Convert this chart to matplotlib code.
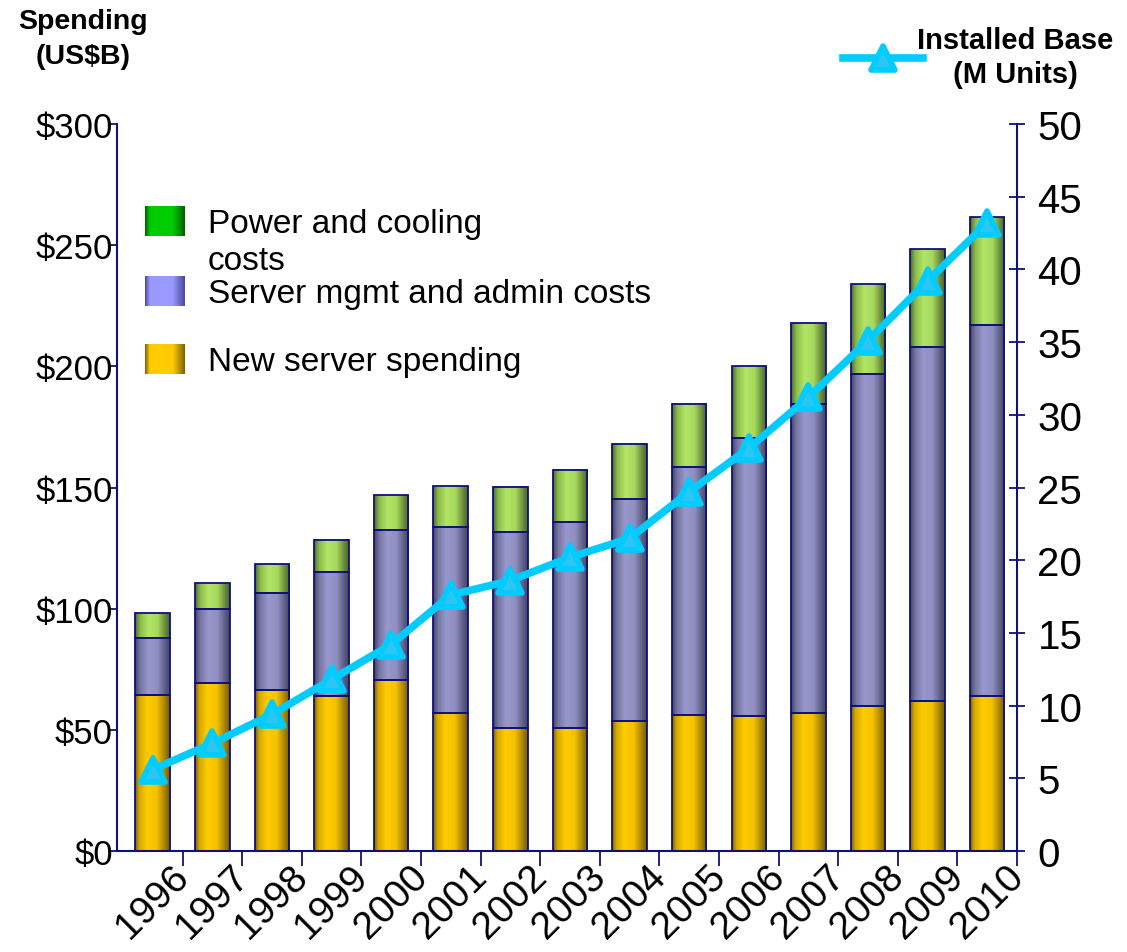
import matplotlib

matplotlib.use("Agg")
import matplotlib.pyplot as plt
import numpy as np
from matplotlib.colors import LinearSegmentedColormap
from matplotlib.markers import MarkerStyle

plt.rcParams["font.family"] = ["Liberation Sans", "DejaVu Sans"]

# data (US$B per year, stacked) and installed base (M units)
years = ["1996", "1997", "1998", "1999", "2000", "2001", "2002", "2003",
         "2004", "2005", "2006", "2007", "2008", "2009", "2010"]
new_server = [64.5, 69.3, 66.4, 63.8, 70.7, 57.0, 50.6, 50.9,
              53.8, 56.1, 55.8, 56.8, 60.0, 62.0, 63.8]
mgmt_admin = [23.6, 30.6, 40.2, 51.2, 61.9, 76.8, 80.9, 85.0,
              91.3, 102.2, 114.8, 127.7, 136.9, 146.1, 153.4]
power_cooling = [10.1, 10.7, 11.8, 13.3, 14.4, 16.7, 18.7, 21.5,
                 22.9, 26.2, 29.7, 33.4, 37.0, 40.3, 44.4]
installed_base = [5.6, 7.4, 9.4, 11.8, 14.2, 17.6, 18.6, 20.2,
                  21.5, 24.7, 27.7, 31.2, 35.1, 39.2, 43.2]

spend_ticks = [0, 50, 100, 150, 200, 250, 300]
spend_labels = [r"\$0", r"\$50", r"\$100", r"\$150", r"\$200", r"\$250", r"\$300"]
base_ticks = [0, 5, 10, 15, 20, 25, 30, 35, 40, 45, 50]

NAVY = "#10107a"


def shade(name, dark, light, dark2=None):
    dark2 = dark2 or dark
    return LinearSegmentedColormap.from_list(
        name, [(0, dark), (0.12, light), (0.38, light), (0.7, light), (1, dark2)]
    )


gold_cm = LinearSegmentedColormap.from_list(
    "gold", [(0, "#7a6000"), (0.12, "#d4a800"), (0.35, "#ffcc00"),
             (0.62, "#f4c300"), (0.85, "#aa8500"), (1, "#735a00")])
purple_cm = LinearSegmentedColormap.from_list(
    "purple", [(0, "#454566"), (0.15, "#7676a4"), (0.38, "#9898cc"),
               (0.65, "#8e8ec0"), (0.88, "#5a5a80"), (1, "#444464")])
green_cm = LinearSegmentedColormap.from_list(
    "green", [(0, "#4f6a2a"), (0.15, "#8cbc4a"), (0.38, "#b2e466"),
              (0.65, "#a6d85c"), (0.88, "#66863a"), (1, "#4a6428")])

leg_green = shade("lg", "#006000", "#00cc00")
leg_purple = shade("lp", "#4a4a9a", "#9999ff")
leg_gold = shade("ly", "#806000", "#ffcc00")

fig = plt.figure(figsize=(11.27, 9.53), dpi=100)
ax = fig.add_axes([0.1038, 0.1060, 0.7986, 0.7628])
ax2 = ax.twinx()

x = np.arange(len(years))
width = 0.58
grad = np.linspace(0, 1, 128).reshape(1, -1)

bottom = np.zeros(len(years))
for vals, cmap in [(new_server, gold_cm), (mgmt_admin, purple_cm),
                   (power_cooling, green_cm)]:
    vals = np.asarray(vals)
    for xi, b, h in zip(x, bottom, vals):
        ax.imshow(grad, cmap=cmap, aspect="auto", interpolation="bilinear",
                  extent=(xi - width / 2, xi + width / 2, b, b + h), zorder=2)
    ax.bar(x, vals, width, bottom=bottom, fill=False, edgecolor=NAVY,
           linewidth=1.3, zorder=3)
    bottom = bottom + vals

ax.set_xlim(-0.6, 14.5)
ax.set_ylim(0, 300)
ax.set_aspect("auto")

tri = MarkerStyle("^", joinstyle="round")
line, = ax2.plot(x, installed_base, color="#00ccff", linewidth=5.5,
                 marker=tri, markersize=17.5, markerfacecolor="#2cc6f4",
                 markeredgecolor="#00ccff", markeredgewidth=4, zorder=5,
                 solid_joinstyle="round")
ax2.set_ylim(0, 50)

# axes styling
ax.set_yticks(spend_ticks, spend_labels)
ax.tick_params(axis="y", direction="out", length=6, width=1.3, color=NAVY,
               pad=-3, labelsize=25)
ax.set_xticks(x, years, rotation=45, fontsize=28)
ax.tick_params(axis="x", which="major", length=0, pad=5)
ax.set_xticks(x + 0.5, minor=True)
ax.tick_params(axis="x", which="minor", direction="out", length=10.5,
               width=1.3, color=NAVY)

ax2.set_yticks(base_ticks)
ax2.tick_params(axis="y", direction="inout", length=11.5, width=1.3,
                color=NAVY, pad=9, labelsize=29)

for a in (ax, ax2):
    a.spines["top"].set_visible(False)
    for s in a.spines.values():
        s.set_color(NAVY)
        s.set_linewidth(1.5)
ax.spines["right"].set_visible(False)
ax2.spines["left"].set_visible(False)
ax2.spines["bottom"].set_visible(False)

# axis titles
fig.text(83 / 1127, 1 - 9 / 953, "Spending\n(US\\$B)", ha="center", va="top",
         fontsize=20.5, fontweight="bold", multialignment="center",
         linespacing=1.45)

leg = ax2.legend([line], ["Installed Base\n(M Units)"], loc="center left",
                 bbox_to_anchor=(843 / 1127, 1 - 58 / 953),
                 bbox_transform=fig.transFigure, frameon=False,
                 handlelength=2.75, handletextpad=-0.2, borderpad=0,
                 borderaxespad=0, prop={"weight": "bold", "size": 21})
for t in leg.get_texts():
    t.set_multialignment("center")
    t.set_linespacing(1.3)

# bar legend (swatch aligned with the first line of each label)
legend_rows = [
    (leg_green, 207, "Power and cooling\ncosts"),
    (leg_purple, 277, "Server mgmt and admin costs"),
    (leg_gold, 345, "New server spending"),
]
for cmap, top_px, label in legend_rows:
    sw = fig.add_axes([145 / 1127, 1 - (top_px + 30) / 953, 40 / 1127, 30 / 953])
    sw.imshow(grad, cmap=cmap, aspect="auto", interpolation="bilinear")
    sw.set_axis_off()
    fig.text(208 / 1127, 1 - (top_px + 2) / 953, label, ha="left", va="top",
             fontsize=24, linespacing=1.25)

fig.savefig("out.png", dpi=100)
